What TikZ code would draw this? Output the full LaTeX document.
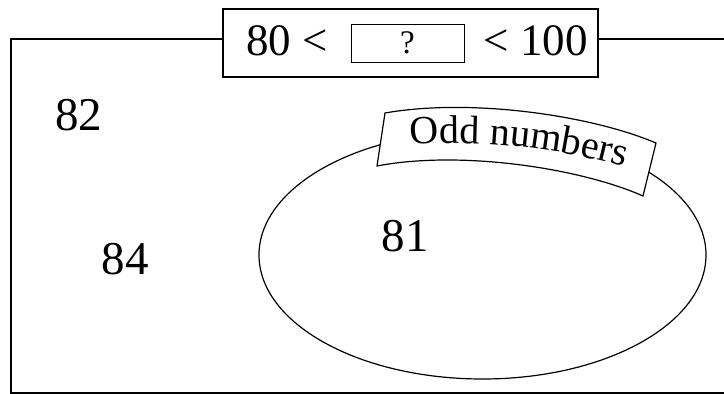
\documentclass[tikz,border=0pt]{standalone}
\usepackage{fontspec}
\setmainfont{Liberation Serif}
\usetikzlibrary{decorations.text}
\tikzset{
  frame/.style={line width=1.4pt},
  numlabel/.style={inner sep=0pt, font=\fontsize{47}{50}\selectfont},
  bigtext/.style={inner sep=0pt, font=\fontsize{45}{48}\selectfont},
}
\begin{document}
\begin{tikzpicture}[x=1pt,y=-1pt]
  \useasboundingbox (0,0) rectangle (724,394);
  % universal set frame
  \draw[frame] (11,39) rectangle (740,393);
  % odd-number set
  \draw[line width=1.2pt] (482.5,255) ellipse [x radius=223.5pt, y radius=124pt];
  % title box
  \node[draw, frame, fill=white, minimum width=375pt, minimum height=68pt, inner sep=0pt]
    (title) at (410.5,43) {};
  \node[draw, line width=1pt, minimum width=113pt, minimum height=38pt, inner sep=0pt,
        font=\fontsize{33}{35}\selectfont] (blank) at (407.5,43) {?};
  \node[bigtext, anchor=base west] (lower) at (246,55) {80 <};
  \node[bigtext, anchor=base east] (upper) at (588,55) {< 100};
  % curved banner
  \draw[line width=1.2pt, fill=white]
    (385,113) .. controls (470,98) and (590,115) .. (656,143)
    -- (643,196) .. controls (580,168) and (460,150) .. (377,166) -- cycle;
  \path[decorate, decoration={text along path, text align=center,
        text={|\fontsize{40}{41}\selectfont|Odd numbers}}]
    (382,149) .. controls (464,134) and (582,150) .. (652,176);
  % elements
  \node[numlabel] (n82) at (79,115) {82};
  \node[numlabel] (n84) at (125,259) {84};
  \node[numlabel] (n81) at (405,236) {81};
\end{tikzpicture}
\end{document}
